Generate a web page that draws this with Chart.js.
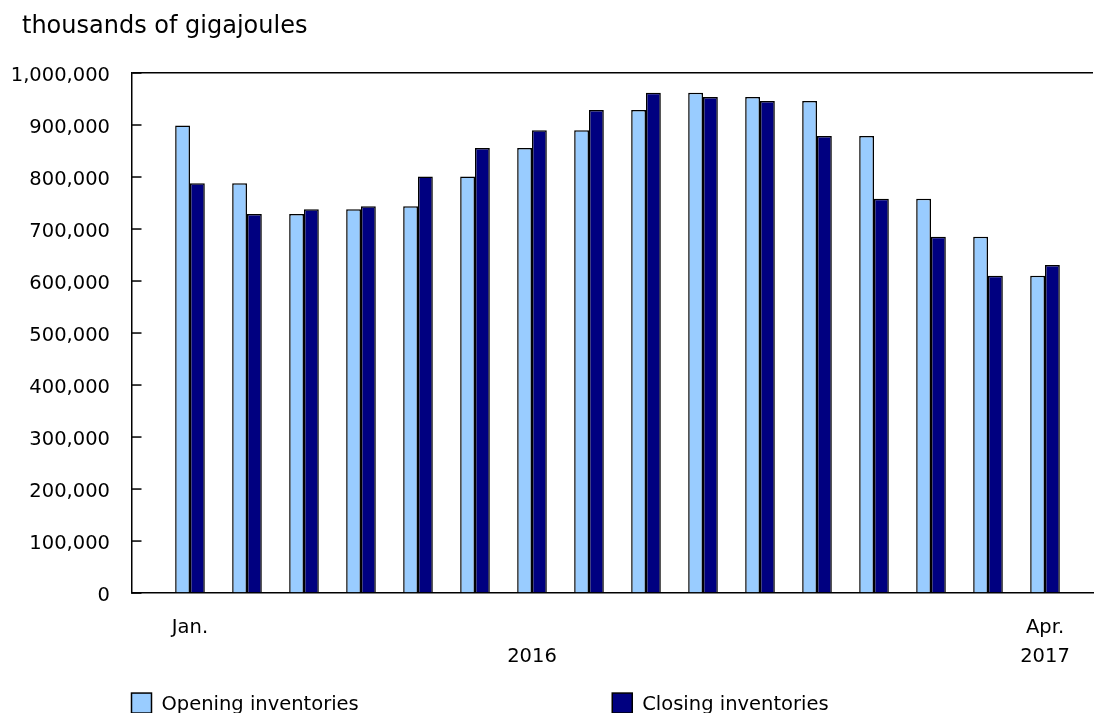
<!DOCTYPE html>
<html lang="en">
<head>
<meta charset="UTF-8">
<title>Opening and closing inventories</title>
<script src="https://cdn.jsdelivr.net/npm/chart.js"></script>
<style>
  html, body { margin: 0; padding: 0; background: #fff; overflow: hidden; }
  #wrap { width: 1094px; height: 713px; position: relative; }
</style>
</head>
<body>
<div id="wrap"><canvas id="myChart"></canvas></div>
<script>
// monthly values, thousands of gigajoules
const months = ['Jan. 2016', 'Feb. 2016', 'Mar. 2016', 'Apr. 2016', 'May 2016', 'June 2016',
                'July 2016', 'Aug. 2016', 'Sept. 2016', 'Oct. 2016', 'Nov. 2016', 'Dec. 2016',
                'Jan. 2017', 'Feb. 2017', 'Mar. 2017', 'Apr. 2017'];
const opening = [899000, 788000, 729000, 738000, 744000, 801000, 856000, 890000,
                 929000, 962000, 954000, 946000, 879000, 758000, 685000, 610000];
const closing = [788000, 729000, 738000, 744000, 801000, 856000, 890000, 929000,
                 962000, 954000, 946000, 879000, 758000, 685000, 610000, 631000];

// x axis labels: month index -> lines
const xTickAt = [0, 6, 15];
const xTickText = [['Jan.', ''], ['', '2016'], ['Apr.', '2017']];
const unitTitle = 'thousands of gigajoules';

Chart.defaults.font.family = '"DejaVu Sans", Verdana, sans-serif';
Chart.defaults.color = '#000';

// unit title, inner y tick marks and two-column legend
const extras = {
  id: 'extras',
  afterDraw(chart) {
    const {ctx, chartArea} = chart;
    const y = chart.scales.y;
    ctx.save();
    ctx.fillStyle = '#000';
    ctx.font = '24px "DejaVu Sans"';
    ctx.textBaseline = 'alphabetic';
    ctx.fillText(unitTitle, 22, 33);

    ctx.strokeStyle = '#000';
    ctx.lineWidth = 1.5;
    y.ticks.forEach(t => {
      const py = y.getPixelForValue(t.value);
      ctx.beginPath();
      ctx.moveTo(chartArea.left, py);
      ctx.lineTo(chartArea.left + 10, py);
      ctx.stroke();
    });

    const colW = chartArea.width / 2;
    const top = chartArea.bottom + 100;
    ctx.font = '19.5px "DejaVu Sans"';
    ctx.textBaseline = 'middle';
    chart.data.datasets.forEach((ds, i) => {
      const x = chartArea.left + i * colW;
      ctx.fillStyle = ds.backgroundColor;
      ctx.fillRect(x, top, 20, 20);
      ctx.strokeRect(x, top, 20, 20);
      ctx.fillStyle = '#000';
      ctx.fillText(ds.label, x + 30, top + 12);
    });
    ctx.restore();
  }
};

const ctx = document.getElementById('myChart').getContext('2d');
const myChart = new Chart(ctx, {
  type: 'bar',
  data: {
    datasets: [{
      label: 'Opening inventories',
      data: opening.map((v, i) => ({x: i, y: v})),
      backgroundColor: '#99CCFF',
      borderColor: '#000',
      borderWidth: 1.5
    }, {
      label: 'Closing inventories',
      data: closing.map((v, i) => ({x: i, y: v})),
      backgroundColor: '#000080',
      borderColor: '#000',
      borderWidth: 1.5
    }]
  },
  options: {
    responsive: true,
    maintainAspectRatio: false,
    animation: false,
    categoryPercentage: 0.52,
    barPercentage: 1.0,
    layout: { padding: { left: 6, right: 1, top: 73, bottom: 21 } },
    plugins: {
      legend: { display: false },
      tooltip: { enabled: false },
      title: { display: false }
    },
    scales: {
      x: {
        type: 'linear',
        min: -1.026,
        max: 15.842,
        offset: false,
        afterBuildTicks: s => { s.ticks = xTickAt.map(v => ({value: v})); },
        ticks: {
          autoSkip: false,
          maxRotation: 0,
          padding: 21,
          font: { size: 19.5, lineHeight: 1.46 },
          callback: v => xTickText[xTickAt.indexOf(v)]
        },
        grid: { drawOnChartArea: false, drawTicks: false, offset: false },
        border: { color: '#000', width: 1.5 }
      },
      y: {
        min: 0,
        max: 1000000,
        afterFit: s => { s.width = 125.5; },
        ticks: {
          stepSize: 100000,
          padding: 21.5,
          labelOffset: 3,
          font: { size: 19.5 },
          callback: v => v.toLocaleString('en-US')
        },
        grid: {
          drawTicks: false,
          lineWidth: 1.5,
          color: c => (c.tick && c.tick.value === 1000000) ? '#000' : 'rgba(0,0,0,0)'
        },
        border: { color: '#000', width: 1.5 }
      }
    }
  },
  plugins: [extras]
});
</script>
</body>
</html>
